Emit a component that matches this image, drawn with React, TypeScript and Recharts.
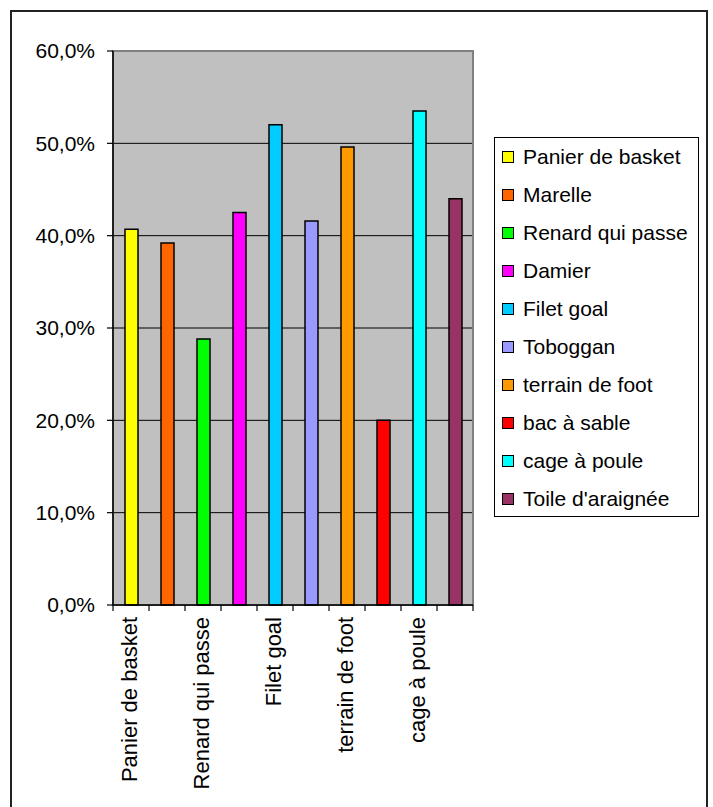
import React from 'react';
import { BarChart, Bar, XAxis, YAxis, CartesianGrid, Cell, Legend, ReferenceArea } from 'recharts';

const categories = [
  'Panier de basket',
  'Marelle',
  'Renard qui passe',
  'Damier',
  'Filet goal',
  'Toboggan',
  'terrain de foot',
  'bac à sable',
  'cage à poule',
  "Toile d'araignée",
];
const values = [0.407, 0.392, 0.288, 0.425, 0.52, 0.416, 0.496, 0.2, 0.535, 0.44];
const colors = [
  '#FFFF00',
  '#FF6600',
  '#00FF00',
  '#FF00FF',
  '#00CCFF',
  '#9999FF',
  '#FF9900',
  '#FF0000',
  '#00FFFF',
  '#993366',
];
const yTicks = [0, 0.1, 0.2, 0.3, 0.4, 0.5, 0.6];
const gridValues = [0.1, 0.2, 0.3, 0.4, 0.5];

const data = categories.map((name, i) => ({ name, value: values[i] }));

const FONT = '"Liberation Sans", Arial, sans-serif';

const CHART_W = 713;
const CHART_H = 807;
const MARGIN = { top: 51, right: 240, bottom: 201, left: 0 };
const Y_AXIS_W = 113;
const PLOT_W = CHART_W - MARGIN.left - MARGIN.right - Y_AXIS_W;
const BAND = PLOT_W / categories.length;

const fmtPct = (v: number) => (v * 100).toFixed(1).replace('.', ',') + '%';

const XTick = (props: any) => {
  const { x, y, payload, index } = props;
  const i = typeof index === 'number' ? index : categories.indexOf(payload.value);
  const left = x - BAND / 2;
  const right = x + BAND / 2;
  return (
    <g>
      <line x1={left} x2={left} y1={y} y2={y + 6} stroke="#000" strokeWidth={1.2} />
      {i === categories.length - 1 && (
        <line x1={right} x2={right} y1={y} y2={y + 6} stroke="#000" strokeWidth={1.2} />
      )}
      {i % 2 === 0 && (
        <text
          transform={`translate(${x},${y + 12}) rotate(-90)`}
          textAnchor="end"
          dy="0.25em"
          fontSize={22}
          fontFamily={FONT}
          fill="#000"
        >
          {payload.value}
        </text>
      )}
    </g>
  );
};

const LegendContent = () => (
  <div
    style={{
      width: '100%',
      height: '100%',
      boxSizing: 'border-box',
      border: '1px solid #000',
      background: '#fff',
    }}
  >
    {categories.map((name, i) => (
      <div
        key={name}
        style={{
          height: 38,
          display: 'flex',
          alignItems: 'center',
          fontFamily: FONT,
          fontSize: 21,
          color: '#000',
          whiteSpace: 'nowrap',
        }}
      >
        <span
          style={{
            display: 'inline-block',
            width: 10,
            height: 10,
            marginLeft: 7,
            marginRight: 9,
            border: '1.5px solid #000',
            background: colors[i],
          }}
        />
        {name}
      </div>
    ))}
  </div>
);

export default function App() {
  return (
    <div style={{ position: 'absolute', left: 0, top: 0, width: CHART_W, height: CHART_H, background: '#fff' }}>
      <div
        style={{
          position: 'absolute',
          left: 10,
          top: 10,
          width: 694,
          height: 820,
          border: '2px solid #222',
        }}
      />
      <div style={{ position: 'absolute', left: 0, top: 0 }}>
        <BarChart
          width={CHART_W}
          height={CHART_H}
          data={data}
          margin={MARGIN}
          barCategoryGap={0}
        >
          <CartesianGrid
            fill="#C0C0C0"
            fillOpacity={1}
            stroke="#000"
            strokeWidth={1}
            vertical={false}
            horizontalValues={gridValues}
          />
          <ReferenceArea y1={0} y2={0.6} fill="none" stroke="#808080" strokeWidth={2} ifOverflow="extendDomain" />
          <XAxis
            dataKey="name"
            height={1}
            interval={0}
            tickLine={false}
            tickSize={0}
            tickMargin={0}
            axisLine={{ stroke: '#000', strokeWidth: 1.5 }}
            tick={<XTick />}
          />
          <YAxis
            width={Y_AXIS_W}
            domain={[0, 0.6]}
            ticks={yTicks}
            interval={0}
            tickSize={6}
            tickMargin={12}
            axisLine={{ stroke: '#000', strokeWidth: 1.5 }}
            tickLine={{ stroke: '#000', strokeWidth: 1.2 }}
            tickFormatter={fmtPct}
            tick={{ fontSize: 21, fontFamily: FONT, fill: '#000' }}
          />
          <Legend
            layout="vertical"
            align="center"
            verticalAlign="middle"
            content={<LegendContent />}
            wrapperStyle={{ left: 494, top: 137, width: 205, height: 380 }}
          />
          <Bar dataKey="value" barSize={13} stroke="#000" strokeWidth={1.5} isAnimationActive={false}>
            {data.map((d, i) => (
              <Cell key={d.name} fill={colors[i]} />
            ))}
          </Bar>
        </BarChart>
      </div>
    </div>
  );
}
